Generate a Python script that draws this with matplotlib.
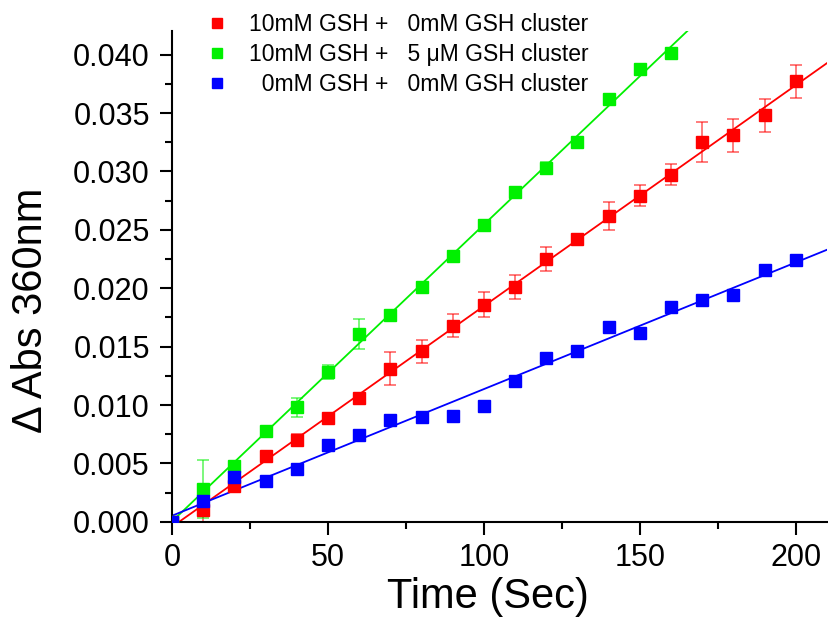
import numpy as np
import matplotlib
matplotlib.use('Agg')
import matplotlib.pyplot as plt
from matplotlib.ticker import MultipleLocator, FormatStrFormatter

plt.rcParams['font.family'] = ['Liberation Sans', 'DejaVu Sans']

# ── Data ──
t_red = [0, 10, 20, 30, 40, 50, 60, 70, 80, 90, 100, 110, 120, 130, 140, 150, 160, 170, 180, 190, 200]
y_red = [0.0, 0.0010, 0.0031, 0.0056, 0.0070, 0.0089, 0.0106, 0.0131, 0.0146, 0.0168, 0.0186,
         0.0201, 0.0225, 0.0242, 0.0262, 0.0279, 0.0297, 0.0325, 0.0331, 0.0348, 0.0377]
e_red = [0.0, 0.0010, 0.0003, 0.0002, 0.0005, 0.0002, 0.0002, 0.0014, 0.0010, 0.0010, 0.0011,
         0.0010, 0.0010, 0.0002, 0.0012, 0.0009, 0.0009, 0.0017, 0.0014, 0.0014, 0.0014]

t_green = [0, 10, 20, 30, 40, 50, 60, 70, 80, 90, 100, 110, 120, 130, 140, 150, 160]
y_green = [0.0, 0.0028, 0.0048, 0.0078, 0.0098, 0.0128, 0.0161, 0.0177, 0.0201, 0.0228, 0.0254,
           0.0282, 0.0303, 0.0325, 0.0362, 0.0388, 0.0401]
e_green = [0.0, 0.0025, 0.0003, 0.0002, 0.0008, 0.0006, 0.0013, 0.0002, 0.0002, 0.0002, 0.0002,
           0.0002, 0.0005, 0.0002, 0.0004, 0.0002, 0.0002]

t_blue = [0, 10, 20, 30, 40, 50, 60, 70, 80, 90, 100, 110, 120, 130, 140, 150, 160, 170, 180, 190, 200]
y_blue = [0.0, 0.0018, 0.0038, 0.0035, 0.0045, 0.0066, 0.0074, 0.0087, 0.0090, 0.0091, 0.0099,
          0.0121, 0.0140, 0.0146, 0.0167, 0.0162, 0.0184, 0.0190, 0.0194, 0.0216, 0.0224]

labels = ['10mM GSH +   0mM GSH cluster',
          '10mM GSH +   5 \u03bcM GSH cluster',
          '  0mM GSH +   0mM GSH cluster']
colors = ['#FF0000', '#00F000', '#0000FF']

fig = plt.figure(figsize=(8.29, 6.25), dpi=100)
ax = fig.add_axes([0.2075, 0.165, 0.79, 0.785])

series = [(t_red, y_red, e_red), (t_green, y_green, e_green), (t_blue, y_blue, None)]
xfit = np.linspace(0, 210, 100)
for (t, y, e), c, lab in zip(series, colors, labels):
    if e is not None:
        ax.errorbar(t, y, yerr=e, fmt='none', ecolor=c, elinewidth=1.2, capsize=4.5,
                    capthick=1.2, alpha=0.6, zorder=2)
    ax.plot(t, y, 's', color=c, markersize=8.5, label=lab, zorder=3)
    k, b = np.polyfit(t, y, 1)
    ax.plot(xfit, k * xfit + b, '-', color=c, lw=1.3, zorder=2)

ax.set_xlim(0, 210)
ax.set_ylim(0, 0.042)
ax.xaxis.set_major_locator(MultipleLocator(50))
ax.xaxis.set_minor_locator(MultipleLocator(25))
ax.yaxis.set_major_locator(MultipleLocator(0.005))
ax.yaxis.set_minor_locator(MultipleLocator(0.0025))
ax.yaxis.set_major_formatter(FormatStrFormatter('%.3f'))

for s in ['top', 'right']:
    ax.spines[s].set_visible(False)
for s in ['left', 'bottom']:
    ax.spines[s].set_linewidth(1.5)
ax.tick_params(which='major', direction='out', length=9, width=1.5, labelsize=22)
ax.tick_params(axis='y', which='major', pad=7)
ax.tick_params(axis='x', which='major', pad=6)
ax.tick_params(which='minor', direction='out', length=5, width=1.5)

ax.set_xlabel('Time (Sec)', fontsize=30)
ax.set_ylabel('\u0394 Abs 360nm', fontsize=30)
ax.xaxis.set_label_coords(0.482, -0.112)
ax.yaxis.set_label_coords(-0.185, 0.432)

ax.legend(loc='upper left', bbox_to_anchor=(0.012, 1.079), frameon=False, fontsize=16.5,
          handletextpad=0.7, labelspacing=0.3, markerscale=0.9, handlelength=1.4)

fig.savefig('out.png')
